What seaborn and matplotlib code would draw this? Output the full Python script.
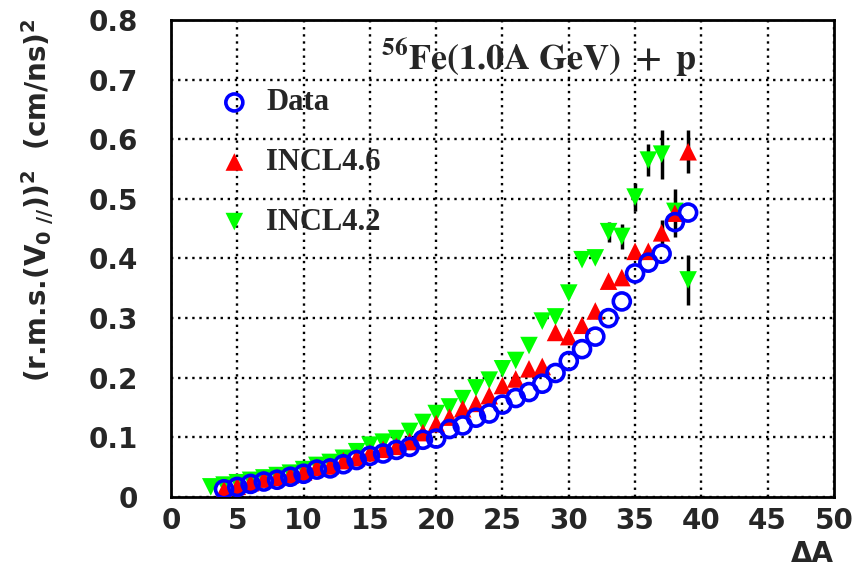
import numpy as np
import pandas as pd
import matplotlib
matplotlib.use("Agg")
import matplotlib.pyplot as plt
from matplotlib.ticker import MultipleLocator
import seaborn as sns

# ---------------- data ----------------
data_dA = list(range(4, 40))
data_val = [0.013, 0.017, 0.022, 0.026, 0.029, 0.034, 0.039, 0.046, 0.048, 0.055,
            0.062, 0.069, 0.073, 0.079, 0.084, 0.096, 0.098, 0.114, 0.120, 0.133,
            0.140, 0.155, 0.166, 0.176, 0.190, 0.208, 0.228, 0.248, 0.269, 0.300,
            0.328, 0.375, 0.393, 0.408, 0.461, 0.477]

incl46_dA = list(range(4, 40))
incl46_val = [0.012, 0.018, 0.024, 0.030, 0.033, 0.037, 0.042, 0.050, 0.052, 0.061,
              0.066, 0.074, 0.080, 0.085, 0.093, 0.108, 0.123, 0.134, 0.148, 0.157,
              0.170, 0.187, 0.198, 0.215, 0.219, 0.276, 0.269, 0.288, 0.312, 0.362,
              0.368, 0.412, 0.412, 0.443, 0.476, 0.579]
incl46_err = [0] * 33 + [0.022, 0.040, 0.036]

incl42_dA = list(range(3, 40))
incl42_val = [0.017, 0.020, 0.024, 0.028, 0.032, 0.036, 0.040, 0.046, 0.053, 0.058,
              0.065, 0.076, 0.087, 0.092, 0.098, 0.110, 0.125, 0.140, 0.151, 0.165,
              0.183, 0.196, 0.215, 0.229, 0.254, 0.295, 0.302, 0.342, 0.398, 0.401,
              0.445, 0.437, 0.503, 0.565, 0.575, 0.479, 0.364]
incl42_err = [0] * 30 + [0.017, 0.021, 0.024, 0.027, 0.041, 0.0, 0.042]

series_labels = ["Data", "INCL4.6", "INCL4.2"]
title_text = r"$\mathbf{^{56}Fe(1.0A\ GeV)\ +\ p}$"
ylabel_text = r"(r.m.s.(V$_{0\ //}$))$^{2}$  (cm/ns)$^{2}$"
xlabel_text = "ΔA"

# ---------------- style ----------------
sns.set_style("white")
plt.rcParams["font.family"] = ["DejaVu Sans"]
plt.rcParams["mathtext.fontset"] = "custom"
plt.rcParams["mathtext.rm"] = "DejaVu Sans:bold"
plt.rcParams["mathtext.it"] = "DejaVu Sans:bold:italic"
plt.rcParams["mathtext.bf"] = "DejaVu Sans:bold"

fig = plt.figure(figsize=(8.55, 5.69), dpi=100)
ax = fig.add_axes([0.200, 0.1265, 0.7754, 0.8384])

# error bars
ax.errorbar(incl46_dA, incl46_val, yerr=incl46_err, fmt="none", ecolor="black",
            elinewidth=2.5, capsize=0, zorder=2)
ax.errorbar(incl42_dA, incl42_val, yerr=incl42_err, fmt="none", ecolor="black",
            elinewidth=2.5, capsize=0, zorder=2)

sns.scatterplot(x=incl42_dA, y=incl42_val, marker="v", s=160, color="#00ff00",
                edgecolor="none", linewidth=0, label=series_labels[2], ax=ax, zorder=3)
sns.scatterplot(x=incl46_dA, y=incl46_val, marker="^", s=160, color="red",
                edgecolor="none", linewidth=0, label=series_labels[1], ax=ax, zorder=4)
sns.scatterplot(x=data_dA, y=data_val, marker="o", s=150, color="blue",
                facecolor="none", edgecolor="blue", linewidth=2.6,
                label=series_labels[0], ax=ax, zorder=5)

ax.set_xlim(0, 50)
ax.set_ylim(0, 0.8)
ax.xaxis.set_major_locator(MultipleLocator(5))
ax.xaxis.set_minor_locator(MultipleLocator(1))
ax.yaxis.set_major_locator(MultipleLocator(0.1))
ax.yaxis.set_minor_locator(MultipleLocator(0.02))
ax.set_xticklabels([f"{int(v)}" for v in ax.get_xticks()])
ax.set_yticklabels(["0" if abs(v) < 1e-9 else f"{v:.1f}" for v in ax.get_yticks()])

ax.tick_params(which="both", direction="in", top=False, right=False,
               width=1.5, color="black")
ax.tick_params(which="major", length=12, labelsize=20)
ax.tick_params(axis="y", which="major", pad=24)
ax.tick_params(axis="x", which="major", pad=7)
ax.tick_params(which="minor", length=6)
for lab in ax.get_xticklabels() + ax.get_yticklabels():
    lab.set_fontweight("bold")

ax.grid(True, which="major", color="black", linestyle=(0, (1, 2)), linewidth=1.7)
ax.set_axisbelow(True)
for sp in ax.spines.values():
    sp.set_visible(True)
    sp.set_color("black")
    sp.set_linewidth(2)

ax.set_xlabel(xlabel_text, loc="right", fontsize=20, fontweight="bold", labelpad=4)
ax.set_ylabel("")
fig.text(0.044, 1 - 200 / 569, ylabel_text, rotation=90, ha="center", va="center",
         fontsize=20, fontweight="bold")

ax.text(0.555, 0.92, title_text, transform=ax.transAxes, ha="center", va="center",
        fontsize=26, math_fontfamily="stix")

# legend in the order Data, INCL4.6, INCL4.2
handles, labels = ax.get_legend_handles_labels()
order = [labels.index(l) for l in series_labels]
ax.legend([handles[i] for i in order], [labels[i] for i in order],
          loc="upper left", bbox_to_anchor=(0.031, 0.882), frameon=False,
          prop={"family": "Liberation Serif", "weight": "bold", "size": 22},
          labelspacing=1.0, handletextpad=0.05, borderaxespad=0)

fig.savefig("out.png", dpi=100)
